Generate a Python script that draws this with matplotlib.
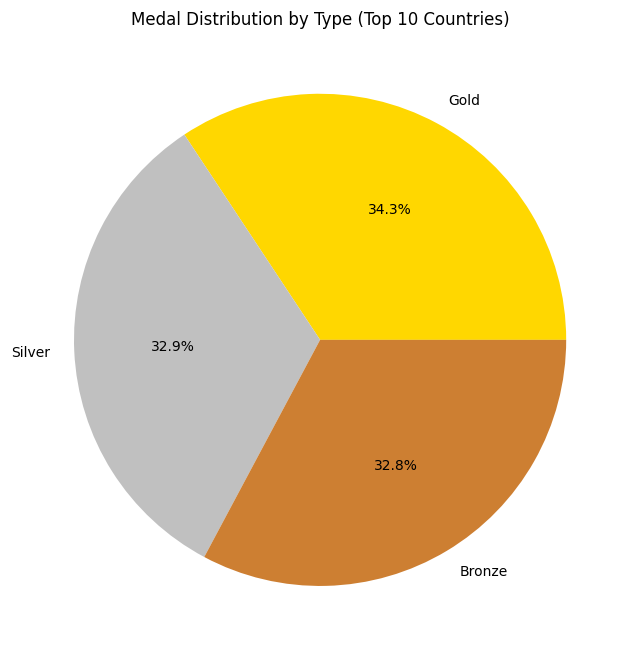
import matplotlib
matplotlib.use("Agg")
import matplotlib.pyplot as plt

labels = ["Gold", "Silver", "Bronze"]
shares = [34.3, 32.9, 32.8]
colors = ["#FFD700", "#C0C0C0", "#CD7F32"]

fig = plt.figure(figsize=(6.37, 6.58), dpi=100)
ax = fig.add_axes([0.0195, 0.016, 0.966, 0.935])
ax.pie(shares, labels=labels, colors=colors, autopct="%1.1f%%")
ax.set_title("Medal Distribution by Type (Top 10 Countries)", pad=5)
fig.savefig("out.png", dpi=100)
